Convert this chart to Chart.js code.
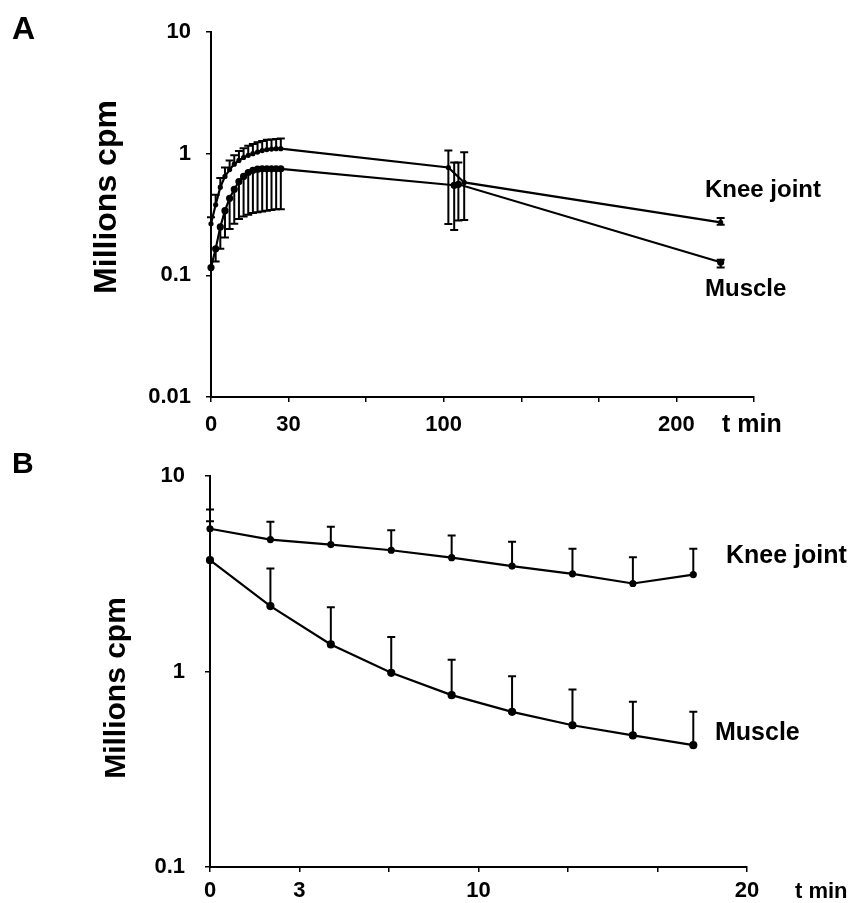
<!DOCTYPE html>
<html>
<head>
<meta charset="utf-8">
<script src="https://cdn.jsdelivr.net/npm/chart.js@4.4.0/dist/chart.umd.min.js"></script>
<style>
html,body{margin:0;padding:0;background:#fff;}
#wrapA{position:absolute;left:0;top:0;width:855px;height:440px;}
#wrapB{position:absolute;left:0;top:440px;width:855px;height:463px;}
</style>
</head>
<body>
<div id="wrapA"><canvas id="chartA"></canvas></div>
<div id="wrapB"><canvas id="chartB"></canvas></div>
<script>
// ---- panel A (0-220 min) ----
const kneeTimeA = [0,2,4,6,8,10,12,14,16,18,20,22,24,26,28,30,102,108.8,219]
const kneeA     = [0.265,0.38,0.53,0.65,0.74,0.82,0.88,0.93,0.97,1.0,1.03,1.06,1.08,1.09,1.1,1.1,0.77,0.58,0.272]
const kneeHiA   = [0.3,0.46,0.63,0.77,0.88,0.97,1.05,1.11,1.16,1.2,1.24,1.27,1.3,1.31,1.32,1.33,1.06,1.025,0.296]
const kneeLoA   = [null,null,null,null,null,null,null,null,null,null,null,null,null,null,null,null,0.264,0.285,0.261]

const muscleTimeA = [0,2,4,6,8,10,12,14,16,18,20,22,24,26,28,30,104.5,106.3,219]
const muscleA     = [0.116,0.165,0.25,0.34,0.43,0.51,0.59,0.65,0.7,0.73,0.745,0.75,0.75,0.75,0.75,0.75,0.55,0.56,0.128]
const muscleHiA   = [null,null,null,null,null,null,null,null,null,null,null,null,null,null,null,null,0.848,0.848,0.134]
const muscleLoA   = [null,0.13,0.165,0.205,0.24,0.265,0.29,0.305,0.315,0.325,0.33,0.335,0.34,0.345,0.35,0.35,0.236,0.282,0.116]

const xTicksA  = [0,33.33,66.67,100,133.33,166.67,200,233.33]
const xLabelsA = ['0','30','','100','','','200','']
const yTicksA  = [0.01,0.1,1,10]

// ---- panel B (0-20 min) ----
const timeB     = [0,2.25,4.5,6.75,9,11.25,13.5,15.75,18]
const kneeB     = [5.37,4.73,4.46,4.17,3.82,3.46,3.16,2.82,3.13]
const kneeHiB   = [6.74,5.83,5.5,5.28,4.96,4.61,4.24,3.84,4.24]
const muscleB   = [3.71,2.16,1.375,0.985,0.757,0.622,0.531,0.471,0.42]
const muscleHiB = [5.87,3.36,2.13,1.5,1.15,0.946,0.809,0.7,0.622]

const xTicksB  = [0,3.333,6.667,10,13.333,16.667,20]
const xLabelsB = ['0','3','','10','','','20']
const yTicksB  = [0.1,1,10]

const FONT = "'Liberation Sans', Arial, sans-serif"

// error bars drawn through the y scale
const errorBars = {
    id: 'errorBars',
    afterDatasetsDraw(chart){
        const ctx = chart.ctx
        const ys = chart.scales.y
        ctx.save()
        ctx.strokeStyle = '#000'
        ctx.lineWidth = 2
        chart.data.datasets.forEach((ds, di) => {
            const meta = chart.getDatasetMeta(di)
            meta.data.forEach((pt, i) => {
                [ds.errHi, ds.errLo].forEach(arr => {
                    if(!arr || arr[i] == null) return
                    const y = ys.getPixelForValue(arr[i])
                    ctx.beginPath()
                    ctx.moveTo(pt.x, pt.y)
                    ctx.lineTo(pt.x, y)
                    ctx.moveTo(pt.x - 4, y)
                    ctx.lineTo(pt.x + 4, y)
                    ctx.stroke()
                })
            })
        })
        ctx.restore()
    }
}

// free text: panel letter, axis title, curve names
const annot = {
    id: 'annot',
    afterDraw(chart, args, opts){
        const ctx = chart.ctx
        ctx.save()
        ctx.fillStyle = '#000'
        opts.items.forEach(it => {
            ctx.save()
            ctx.font = `bold ${it.size}px ${FONT}`
            ctx.textBaseline = 'middle'
            ctx.textAlign = it.align || 'left'
            ctx.translate(it.x, it.y)
            if(it.rot) ctx.rotate(it.rot)
            ctx.fillText(it.text, 0, 0)
            ctx.restore()
        })
        ctx.restore()
    }
}

function pts(t, v){ return t.map((x, i) => ({x: x, y: v[i]})) }

function makeChart(el, cfg){
    return new Chart(el, {
        type: 'line',
        data: {datasets: cfg.datasets},
        options: {
            responsive: true,
            maintainAspectRatio: false,
            animation: false,
            layout: {padding: cfg.pad},
            plugins: {legend: {display: false}, tooltip: {enabled: false}, annot: {items: cfg.text}},
            scales: {
                x: {
                    type: 'linear', min: cfg.xMin, max: cfg.xMax,
                    afterBuildTicks: s => { s.ticks = cfg.xTicks.map(v => ({value: v})) },
                    afterFit: s => { s.height = cfg.xHeight },
                    ticks: {
                        autoSkip: false, maxRotation: 0, padding: cfg.xPad, color: '#000',
                        font: {family: FONT, size: cfg.tickSize, weight: 'bold'},
                        callback: (v, i) => cfg.xLabels[i]
                    },
                    grid: {drawOnChartArea: false, tickLength: 5, color: '#000', lineWidth: 1.5},
                    border: {color: '#000', width: 2}
                },
                y: {
                    type: 'logarithmic', min: cfg.yTicks[0], max: cfg.yTicks[cfg.yTicks.length - 1],
                    afterBuildTicks: s => { s.ticks = cfg.yTicks.map(v => ({value: v})) },
                    afterFit: s => { s.width = cfg.yWidth },
                    ticks: {
                        padding: cfg.yPad, color: '#000',
                        font: {family: FONT, size: cfg.tickSize, weight: 'bold'},
                        callback: v => String(v)
                    },
                    grid: {drawOnChartArea: false, tickLength: 5, color: '#000', lineWidth: 1.5},
                    border: {color: '#000', width: 2}
                }
            }
        },
        plugins: [errorBars, annot]
    })
}

function line(data, hi, lo, r){
    return {
        data: data, errHi: hi, errLo: lo,
        borderColor: '#000', borderWidth: 2.2, tension: 0,
        pointRadius: r, pointBackgroundColor: '#000', pointBorderColor: '#000',
        clip: false
    }
}

makeChart(document.getElementById('chartA'), {
    datasets: [
        line(pts(kneeTimeA, kneeA), kneeHiA, kneeLoA, 1.5),
        line(pts(muscleTimeA, muscleA), muscleHiA, muscleLoA, 2.5)
    ],
    xMin: 0, xMax: 233.33, xTicks: xTicksA, xLabels: xLabelsA, yTicks: yTicksA,
    pad: {top: 32, right: 101, left: 0, bottom: 0},
    xHeight: 43, yWidth: 211, xPad: 10, yPad: 15, tickSize: 22,
    text: [
        {text: 'A', x: 12, y: 30, size: 32},
        {text: 'Millions cpm', x: 107, y: 197, size: 32, rot: -Math.PI / 2, align: 'center'},
        {text: 't min', x: 722, y: 425, size: 25},
        {text: 'Knee joint', x: 705, y: 190, size: 24},
        {text: 'Muscle', x: 705, y: 289, size: 24}
    ]
})

makeChart(document.getElementById('chartB'), {
    datasets: [
        line(pts(timeB, kneeB), kneeHiB, null, 2.5),
        line(pts(timeB, muscleB), muscleHiB, null, 3)
    ],
    xMin: 0, xMax: 20, xTicks: xTicksB, xLabels: xLabelsB, yTicks: yTicksB,
    pad: {top: 36, right: 108, left: 0, bottom: 0},
    xHeight: 36, yWidth: 210, xPad: 6, yPad: 20, tickSize: 22,
    text: [
        {text: 'B', x: 12, y: 25, size: 30},
        {text: 'Millions cpm', x: 117, y: 248, size: 30, rot: -Math.PI / 2, align: 'center'},
        {text: 't min', x: 795, y: 452, size: 22},
        {text: 'Knee joint', x: 726, y: 116, size: 25},
        {text: 'Muscle', x: 715, y: 293, size: 25}
    ]
})
</script>
</body>
</html>
